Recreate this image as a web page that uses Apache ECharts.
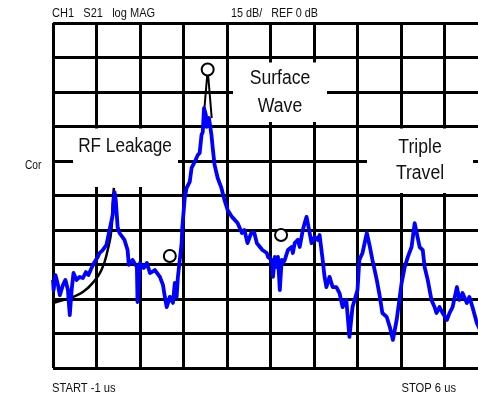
<!DOCTYPE html>
<html>
<head>
<meta charset="utf-8">
<script src="https://cdn.jsdelivr.net/npm/echarts@6/dist/echarts.min.js"></script>
<style>
html,body{margin:0;padding:0;background:#fff;}
#c{width:478px;height:400px;}
</style>
</head>
<body>
<div id="c"></div>
<script>
// Sweep: START -1 us, STOP 6 us; 15 dB/div, REF 0 dB
var START_US = -1;
var STOP_US = 6;
var DB_PER_DIV = 15;
var REF_DB = 0;
var DIVS = 10;

// Measured trace (blue): time in us, magnitude in dB
var traceTime = [-1.00,-0.99,-0.96,-0.92,-0.89,-0.84,-0.80,-0.76,-0.73,-0.70,-0.67,-0.62,-0.57,-0.52,-0.47,-0.43,-0.38,-0.33,-0.28,-0.25,-0.20,-0.14,-0.09,-0.04,-0.02,-0.01,0.01,0.04,0.07,0.15,0.20,0.22,0.28,0.35,0.36,0.40,0.46,0.51,0.56,0.64,0.72,0.77,0.80,0.83,0.88,0.93,0.96,0.99,1.01,1.04,1.07,1.08,1.12,1.15,1.20,1.23,1.28,1.33,1.36,1.39,1.41,1.43,1.46,1.47,1.51,1.55,1.57,1.60,1.65,1.71,1.76,1.81,1.88,1.97,2.04,2.08,2.13,2.19,2.24,2.28,2.33,2.37,2.44,2.46,2.52,2.54,2.57,2.60,2.62,2.65,2.68,2.70,2.73,2.78,2.84,2.86,2.89,2.94,2.97,3.00,3.02,3.05,3.08,3.10,3.13,3.16,3.21,3.26,3.29,3.34,3.37,3.40,3.45,3.50,3.56,3.61,3.66,3.72,3.77,3.82,3.90,3.93,3.98,4.05,4.10,4.14,4.21,4.26,4.30,4.37,4.42,4.47,4.53,4.58,4.61,4.66,4.71,4.77,4.82,4.85,4.90,4.95,4.98,5.03,5.09,5.14,5.17,5.22,5.27,5.34,5.38,5.43,5.50,5.54,5.59,5.66,5.70,5.75,5.82,5.90];
var traceDb = [-111.7,-116.1,-109.6,-113.9,-118.3,-113.9,-111.7,-116.1,-127.0,-116.1,-108.7,-111.7,-110.4,-110.9,-108.3,-109.6,-106.5,-103.9,-101.7,-100.0,-98.7,-96.5,-90.0,-83.5,-77.0,-73.5,-77.0,-88.7,-91.3,-94.3,-98.7,-105.2,-103.0,-106.1,-121.3,-104.3,-106.5,-104.3,-108.7,-107.4,-110.4,-113.9,-119.1,-123.5,-119.1,-121.7,-113.0,-119.1,-110.4,-103.0,-95.7,-89.1,-76.1,-71.7,-69.1,-63.0,-60.4,-57.4,-56.5,-48.7,-47.4,-37.0,-40.0,-45.2,-41.3,-48.7,-54.3,-61.7,-67.4,-71.7,-77.0,-81.3,-84.3,-87.0,-91.3,-90.0,-95.7,-91.3,-91.3,-95.7,-97.4,-98.7,-100.0,-101.7,-103.0,-110.4,-101.7,-106.1,-101.7,-116.1,-103.0,-104.3,-103.0,-98.7,-97.4,-100.0,-95.7,-94.3,-97.4,-93.0,-90.0,-87.0,-84.3,-87.0,-91.3,-95.7,-93.0,-94.3,-92.2,-103.0,-110.4,-114.8,-110.4,-114.8,-114.8,-117.4,-123.5,-120.4,-136.5,-123.5,-116.1,-103.0,-100.0,-91.3,-97.4,-103.0,-111.7,-119.1,-126.1,-127.8,-132.2,-137.8,-129.1,-119.1,-113.0,-106.1,-101.7,-97.4,-87.0,-86.5,-97.4,-98.7,-106.1,-111.7,-120.4,-123.5,-126.1,-123.5,-126.1,-129.1,-126.1,-123.5,-114.8,-120.4,-117.4,-121.7,-119.1,-123.5,-130.4,-135.0];

// RF leakage model curve (black)
var leakTime = [-1.00,-0.68,-0.52,-0.36,-0.22,-0.12,-0.06,-0.04,-0.02];
var leakDb = [-121.7,-119.1,-117.0,-113.0,-107.4,-98.7,-90.0,-78.3,-71.7];

// Surface wave model spike (black)
var spikeTime = [1.425,1.489,1.554];
var spikeDb = [-40.9,-20.2,-41.3];

// Markers (open circles)
var markerTime = [0.88,1.489,2.67];
var markerDb = [-101.3,-20.2,-92.2];

function pts(ts, ds){
  var out = [];
  for (var i = 0; i < ts.length; i++) out.push([ts[i] - START_US, ds[i]]);
  return out;
}

var FONT = "'Liberation Sans',Arial,sans-serif";
var span = STOP_US - START_US;

function label(text, x, y, size, align, sx){
  return {type:'text', z:11, x:x, y:y, scaleX:sx, scaleY:1,
    style:{text:text, font:size+'px '+FONT, fill:'#111', align:align, verticalAlign:'middle'}};
}

var chart = echarts.init(document.getElementById('c'), null, {renderer:'canvas'});
chart.setOption({
  animation:false,
  backgroundColor:'#fff',
  grid:{left:53, top:23, width:435, height:345, outerBoundsMode:'none', containLabel:false},
  xAxis:{
    type:'value', min:0, max:span, interval:span/DIVS,
    axisLine:{show:false}, axisTick:{show:false}, axisLabel:{show:false},
    splitLine:{show:true, lineStyle:{color:'#000', width:3}}
  },
  yAxis:{
    type:'value', min:REF_DB - DB_PER_DIV*DIVS, max:REF_DB, interval:DB_PER_DIV,
    axisLine:{show:false}, axisTick:{show:false}, axisLabel:{show:false},
    splitLine:{show:true, lineStyle:{color:'#000', width:3}}
  },
  graphic:[
    {type:'rect', z:10, shape:{x:73, y:128.5, width:105, height:58.5}, style:{fill:'#fff'}},
    {type:'rect', z:10, shape:{x:233, y:62.5, width:94, height:59.5}, style:{fill:'#fff'}},
    {type:'rect', z:10, shape:{x:367, y:128.5, width:106, height:64.5}, style:{fill:'#fff'}},
    label('RF Leakage', 125, 146, 20, 'center', 0.86),
    label('Surface', 280, 78, 20, 'center', 0.88),
    label('Wave', 280, 106, 20, 'center', 0.88),
    label('Triple', 420, 147, 20, 'center', 0.88),
    label('Travel', 420, 173, 20, 'center', 0.88),
    label('CH1   S21   log MAG', 52, 14, 12, 'left', 0.92),
    label('15 dB/   REF 0 dB', 231, 14, 12, 'left', 0.9),
    label('Cor', 25, 166, 12, 'left', 0.85),
    label('START -1 us', 52, 388, 13, 'left', 0.86),
    label('STOP 6 us', 456, 388, 13, 'right', 0.86)
  ],
  series:[
    {type:'line', data:pts(leakTime, leakDb), showSymbol:false, smooth:true, z:3,
     lineStyle:{color:'#000', width:2.5}},
    {type:'line', data:pts(spikeTime, spikeDb), showSymbol:false, z:3,
     lineStyle:{color:'#000', width:2}},
    {type:'line', data:pts(traceTime, traceDb), showSymbol:false, z:4,
     lineStyle:{color:'#0000ff', width:3.8, join:'round'}},
    {type:'scatter', data:pts(markerTime, markerDb), symbol:'circle', symbolSize:12, z:6,
     itemStyle:{color:'#fff', borderColor:'#000', borderWidth:2, opacity:1}}
  ]
});
</script>
</body>
</html>
